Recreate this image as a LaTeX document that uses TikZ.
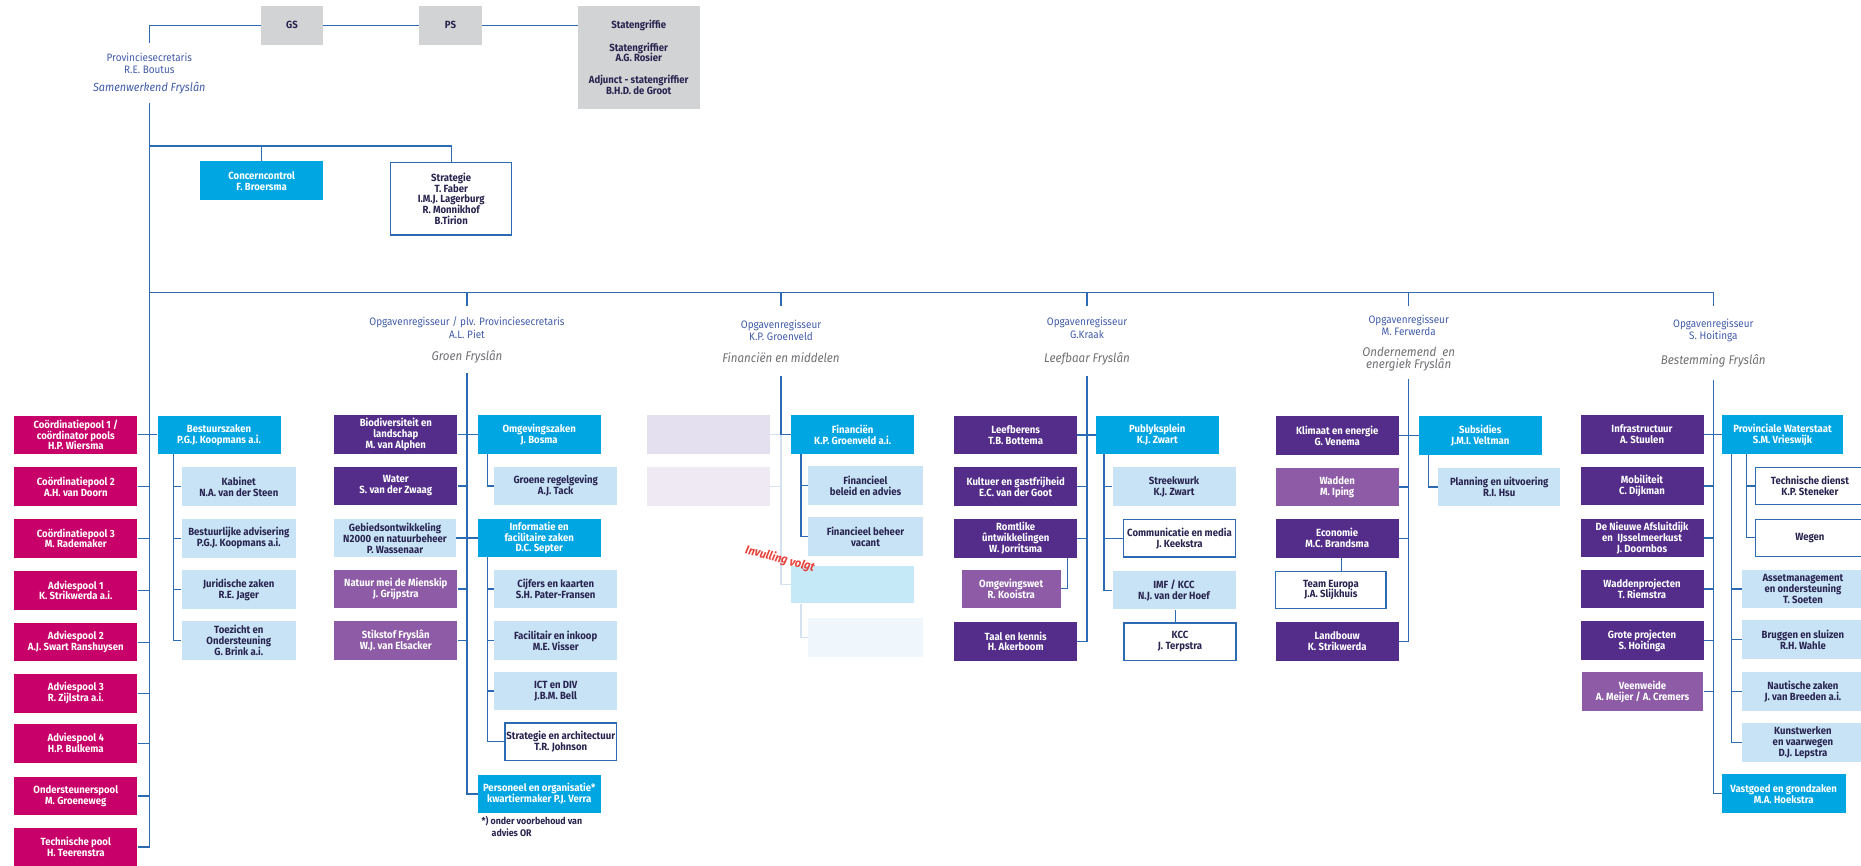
\documentclass[tikz,border=0pt]{standalone}
\usepackage{fontspec}
\setmainfont{Fira Sans}[FakeStretch=0.92]
\usepackage{tikz}

\definecolor{poolred}{RGB}{200,0,106}
\definecolor{deptpurple}{RGB}{83,45,137}
\definecolor{teampurple}{RGB}{142,92,166}
\definecolor{unitcyan}{RGB}{0,166,226}
\definecolor{sublight}{RGB}{200,227,245}
\definecolor{staffgrey}{RGB}{209,211,212}
\definecolor{linkblue}{RGB}{44,106,178}
\definecolor{headblue}{RGB}{66,92,168}
\definecolor{titlegrey}{RGB}{112,112,116}
\definecolor{navytext}{RGB}{40,36,80}
\definecolor{fadelavender}{RGB}{228,224,239}
\definecolor{fadelilac}{RGB}{239,233,244}
\definecolor{fadecyan}{RGB}{198,233,248}
\definecolor{fadepale}{RGB}{239,247,252}
\definecolor{fadeblue}{RGB}{212,226,240}
\definecolor{volgtred}{RGB}{232,66,60}

\newcommand{\orgfont}{\fontsize{10.4}{10.9}\selectfont\bfseries}
\newcommand{\opgfont}{\fontsize{10.8}{12.3}\selectfont}
\newcommand{\opgtitle}{\color{titlegrey}\itshape\fontsize{12.6}{11.6}\selectfont}

\tikzset{
    orgbox/.style={inner sep=1pt, align=center, minimum width=123pt, minimum height=38.5pt, font=\orgfont},
    pool/.style={orgbox, fill=poolred, text=white},
    dept/.style={orgbox, fill=deptpurple, text=white},
    team/.style={orgbox, fill=teampurple, text=white},
    unit/.style={orgbox, fill=unitcyan, text=white},
    sub/.style={orgbox, fill=sublight, text=navytext},
    outlined/.style={orgbox, draw=linkblue, line width=1.3pt, fill=white, text=navytext},
    staff/.style={orgbox, fill=staffgrey, text=navytext},
    faded/.style={orgbox},
    opghead/.style={inner sep=0pt, align=center, font=\opgfont, text=headblue},
    link/.style={draw=linkblue, line width=1.2pt},
    fadelink/.style={draw=fadeblue, line width=1.2pt}
}

\begin{document}
\begin{tikzpicture}[x=1pt,y=-1pt]
    \useasboundingbox (0,0) rectangle (1861,866);

    \node[opghead, minimum height=60] (provsec) at (149.3,73.3)
        {Provinciesecretaris\\R.E. Boutus\\[5pt]{\itshape\fontsize{11.8}{11.6}\selectfont Samenwerkend Fryslân}};
    \node[staff, minimum width=61.7, minimum height=39.3] (gs) at (292,25.3) {GS};
    \node[staff, minimum width=62.4, minimum height=39.3] (pstaten) at (450.5,25.3) {PS};
    \node[staff, minimum width=122, minimum height=103.3] (griffie) at (638.7,57.3)
        {Statengriffie\\[12pt]Statengriffier\\A.G. Rosier\\[11pt]Adjunct - statengriffier\\B.H.D. de Groot};
    \node[unit, minimum height=39.3] (cc) at (261.7,180.7) {Concerncontrol\\F. Broersma};
    \node[outlined, minimum width=121, minimum height=72.3] (strat) at (451.2,198.8)
        {Strategie\\T. Faber\\I.M.J. Lagerburg\\R. Monnikhof\\B.Tirion};

    \coordinate (stafjoin) at (149.3,146);
    \coordinate (opgjoin) at (149.3,292.7);

    \node[opghead, minimum height=66.6] (groenhead) at (467,340)
        {Opgavenregisseur / plv. Provinciesecretaris\\A.L. Piet\\[10pt]{\opgtitle Groen Fryslân}};
    \node[opghead, minimum height=69.3] (finhead) at (781,341.3)
        {Opgavenregisseur\\K.P. Groenveld\\[10pt]{\opgtitle Financiën en middelen}};
    \node[opghead, minimum height=69.3] (leefhead) at (1087,341.3)
        {Opgavenregisseur\\G.Kraak\\[12pt]{\opgtitle Leefbaar Fryslân}};
    \node[opghead, minimum height=72.6] (ondhead) at (1408.7,343)
        {Opgavenregisseur\\M. Ferwerda\\[8pt]{\opgtitle Ondernemend\ \ en}\\{\opgtitle energiek Fryslân}};
    \node[opghead, minimum height=72.7] (besthead) at (1713.3,343)
        {Opgavenregisseur\\S. Hoitinga\\[12pt]{\opgtitle Bestemming Fryslân}};

    \node[pool] (cp1) at (75.8,434.9) {Coördinatiepool 1 /\\coördinator pools\\H.P. Wiersma};
    \node[pool] (cp2) at (75.8,486.7) {Coördinatiepool 2\\A.H. van Doorn};
    \node[pool] (cp3) at (75.8,538.4) {Coördinatiepool 3\\M. Rademaker};
    \node[pool] (ap1) at (75.8,590.4) {Adviespool 1\\K. Strikwerda a.i.};
    \node[pool] (ap2) at (75.8,642.2) {Adviespool 2\\A.J. Swart Ranshuysen};
    \node[pool] (ap3) at (75.8,693.3) {Adviespool 3\\R. Zijlstra a.i.};
    \node[pool] (ap4) at (75.8,743.3) {Adviespool 4\\H.P. Bulkema};
    \node[pool] (osp) at (75.8,795.9) {Ondersteunerspool\\M. Groeneweg};
    \node[pool] (tp) at (75.8,846.9) {Technische pool\\H. Teerenstra};

    \node[unit] (bz) at (219,434.9) {Bestuurszaken\\P.G.J. Koopmans a.i.};
    \node[sub, minimum width=114.3] (kab) at (238.8,486.7) {Kabinet\\N.A. van der Steen};
    \node[sub, minimum width=114.3] (bestadv) at (238.8,538.3) {Bestuurlijke advisering\\P.G.J. Koopmans a.i.};
    \node[sub, minimum width=114.3] (jur) at (238.8,589.5) {Juridische zaken\\R.E. Jager};
    \node[sub, minimum width=114.3] (toez) at (238.8,640.4) {Toezicht en\\Ondersteuning\\G. Brink a.i.};

    \node[dept] (bio) at (395.8,434.5) {Biodiversiteit en\\landschap\\M. van Alphen};
    \node[dept] (water) at (395.8,486) {Water\\S. van der Zwaag};
    \node[sub, minimum width=122] (gebied) at (395,538) {Gebiedsontwikkeling\\N2000 en natuurbeheer\\P. Wassenaar};
    \node[team] (natuur) at (395.8,588.9) {Natuur mei de Mienskip\\J. Grijpstra};
    \node[team] (stikstof) at (395.8,640.5) {Stikstof Fryslân\\W.J. van Elsacker};
    \node[unit] (omg) at (539.2,434.5) {Omgevingszaken\\J. Bosma};
    \node[sub] (groene) at (555.7,486) {Groene regelgeving\\A.J. Tack};
    \node[unit] (info) at (539.2,538) {Informatie en\\facilitaire zaken\\D.C. Septer};
    \node[sub] (cijfers) at (555.7,588.9) {Cijfers en kaarten\\S.H. Pater-Fransen};
    \node[sub] (facil) at (555.7,640.5) {Facilitair en inkoop\\M.E. Visser};
    \node[sub] (ict) at (555.7,691) {ICT en DIV\\J.B.M. Bell};
    \node[outlined, minimum width=111.7, minimum height=37.3] (strarch) at (560.8,741.7) {Strategie en architectuur\\T.R. Johnson};
    \node[unit] (pers) at (539.2,794) {Personeel en organisatie*\\kwartiermaker P.J. Verra};
    \node[anchor=north west, inner sep=0pt, align=left, font=\fontsize{9.6}{11.5}\selectfont\bfseries, text=navytext] (persnote)
        at (481.5,816.5) {*) onder voorbehoud van\\\hspace{10pt}advies OR};

    \node[faded, fill=fadelavender] (fade1) at (708.7,434.7) {};
    \node[faded, fill=fadelilac] (fade2) at (708.7,486.3) {};
    \node[unit] (fin) at (852.7,434.7) {Financiën\\K.P. Groenveld a.i.};
    \node[sub, minimum width=115.6] (finbel) at (865.5,485.5) {Financieel\\beleid en advies};
    \node[sub, minimum width=115.6] (finbeh) at (865.5,536.7) {Financieel beheer\\vacant};
    \node[faded, fill=fadecyan, minimum height=37.3] (fade3) at (852.7,584.7) {};
    \node[faded, fill=fadepale, minimum width=115.6] (fade4) at (865.5,637.3) {};

    \node[dept] (leefb) at (1015.7,435) {Leefberens\\T.B. Bottema};
    \node[dept] (kult) at (1015.7,486.7) {Kultuer en gastfrijheid\\E.C. van der Goot};
    \node[dept] (romt) at (1015.7,538.3) {Romtlike\\ûntwikkelingen\\W. Jorritsma};
    \node[team, minimum width=99] (omgw) at (1011.2,588.8) {Omgevingswet\\R. Kooistra};
    \node[dept] (taal) at (1015.7,641.4) {Taal en kennis\\H. Akerboom};
    \node[unit] (publ) at (1157.3,435) {Publyksplein\\K.J. Zwart};
    \node[sub] (streek) at (1174,486.7) {Streekwurk\\K.J. Zwart};
    \node[outlined, minimum width=112.4, minimum height=37.3] (comm) at (1179.5,538.3) {Communicatie en media\\J. Keekstra};
    \node[sub] (imf) at (1174,590.2) {IMF / KCC\\N.J. van der Hoef};
    \node[outlined, minimum width=112, minimum height=37.3] (kcc) at (1180,641.5) {KCC\\J. Terpstra};

    \node[dept] (klim) at (1337.2,435.5) {Klimaat en energie\\G. Venema};
    \node[team] (wadden) at (1337.2,486.9) {Wadden\\M. Iping};
    \node[dept] (econ) at (1337.2,538.3) {Economie\\M.C. Brandsma};
    \node[outlined, minimum width=110.3, minimum height=37.3] (team) at (1330.9,590) {Team Europa\\J.A. Slijkhuis};
    \node[dept] (landb) at (1337.2,641.4) {Landbouw\\K. Strikwerda};
    \node[unit] (subs) at (1480.2,435.5) {Subsidies\\J.M.I. Veltman};
    \node[sub, minimum width=121.7] (plan) at (1499.2,486.9) {Planning en uitvoering\\R.I. Hsu};

    \node[dept] (infra) at (1642,434.5) {Infrastructuur\\A. Stuulen};
    \node[dept] (mob) at (1642,486) {Mobiliteit\\C. Dijkman};
    \node[dept] (afsl) at (1642,538) {De Nieuwe Afsluitdijk\\en\ \ IJsselmeerkust\\J. Doornbos};
    \node[dept] (waddp) at (1642,589) {Waddenprojecten\\T. Riemstra};
    \node[dept] (grote) at (1642,640.5) {Grote projecten\\S. Hoitinga};
    \node[team, minimum width=121.6] (veen) at (1642.5,691.7) {Veenweide\\A. Meijer / A. Cremers};
    \node[unit, minimum width=121.6] (pw) at (1782.5,434.5) {Provinciale Waterstaat\\S.M. Vrieswijk};
    \node[outlined, minimum width=108.3, minimum height=37] (techd) at (1809.9,486) {Technische dienst\\K.P. Steneker};
    \node[outlined, minimum width=108.3, minimum height=37] (wegen) at (1809.9,537.7) {Wegen};
    \node[sub, minimum width=122.3] (asset) at (1802.9,588.9) {Assetmanagement\\en ondersteuning\\T. Soeten};
    \node[sub, minimum width=122.3] (brug) at (1802.9,639.6) {Bruggen en sluizen\\R.H. Wahle};
    \node[sub, minimum width=122.3] (naut) at (1802.9,691.6) {Nautische zaken\\J. van Breeden a.i.};
    \node[sub, minimum width=122.3] (kunst) at (1802.9,742.5) {Kunstwerken\\en vaarwegen\\D.J. Lepstra};
    \node[unit, minimum width=124] (vast) at (1783.7,793.7) {Vastgoed en grondzaken\\M.A. Hoekstra};

    \draw[link] (provsec.north) |- (gs.west);
    \draw[link] (gs.east) -- (pstaten.west);
    \draw[link] (pstaten.east) -- (pstaten.east -| griffie.west);
    \draw[link] (provsec.south) |- (tp.east);
    \draw[link] (stafjoin) -| (cc.north);
    \draw[link] (stafjoin) -| (strat.north);
    \foreach \h in {groenhead,finhead,leefhead,ondhead,besthead}
        \draw[link] (opgjoin) -| (\h.north);

    \draw[link] (cp1.east) -- (bz.west);
    \foreach \n in {cp2,cp3,ap1,ap2,ap3,ap4,osp}
        \draw[link] (\n.east) -- (\n.east -| provsec.south);
    \coordinate (bzleg) at ([xshift=16pt]bz.south west);
    \draw[link] (bzleg) |- (toez.west);
    \foreach \n in {kab,bestadv,jur}
        \draw[link] (\n.west) -- (\n.west -| bzleg);

    \draw[link] (groenhead.south) |- (pers.west);
    \draw[link] (bio.east) -- (omg.west);
    \draw[link] (gebied.east) -- (info.west);
    \foreach \n in {water,natuur,stikstof}
        \draw[link] (\n.east) -- (\n.east -| groenhead.south);
    \coordinate (omgleg) at ([xshift=9.6pt]omg.south west);
    \draw[link] (omgleg) |- (groene.west);
    \coordinate (infoleg) at ([xshift=9.6pt]info.south west);
    \draw[link] (infoleg) |- (strarch.west);
    \foreach \n in {cijfers,facil,ict}
        \draw[link] (\n.west) -- (\n.west -| infoleg);

    \draw[fadelink] (fin.west -| finhead.south) |- (fade3.west);
    \draw[fadelink] (fade1.east) -- (fade1.east -| finhead.south);
    \draw[fadelink] (fade2.east) -- (fade2.east -| finhead.south);
    \coordinate (fadeleg) at ([xshift=10pt]fade3.south west);
    \draw[fadelink] (fadeleg) |- (fade4.west);
    \draw[link] (finhead.south) |- (fin.west);
    \coordinate (finleg) at ([xshift=10pt]fin.south west);
    \draw[link] (finleg) |- (finbeh.west);
    \draw[link] (finbel.west) -- (finbel.west -| finleg);

    \draw[link] (leefhead.south) |- (taal.east);
    \draw[link] (leefb.east) -- (publ.west);
    \foreach \n in {kult,romt}
        \draw[link] (\n.east) -- (\n.east -| leefhead.south);
    \draw[link] ([xshift=-9.6pt]romt.south east) |- (omgw.east);
    \coordinate (publleg) at ([xshift=8.3pt]publ.south west);
    \draw[link] (publleg) |- (imf.west);
    \foreach \n in {streek,comm}
        \draw[link] (\n.west) -- (\n.west -| publleg);
    \draw[link] ([xshift=1.7pt]imf.south) -- ([xshift=1.7pt]imf.south |- kcc.north);

    \draw[link] (ondhead.south) |- (landb.east);
    \draw[link] (klim.east) -- (subs.west);
    \foreach \n in {wadden,econ}
        \draw[link] (\n.east) -- (\n.east -| ondhead.south);
    \draw[link] ([xshift=10.3pt]subs.south west) |- (plan.west);
    \draw[link] ([xshift=4.5pt]econ.south) -- ([xshift=4.5pt]econ.south |- team.north);

    \draw[link] (besthead.south) |- (vast.west);
    \draw[link] (infra.east) -- (pw.west);
    \foreach \n in {mob,afsl,waddp,grote,veen}
        \draw[link] (\n.east) -- (\n.east -| besthead.south);
    \coordinate (pwleg) at ([xshift=10pt]pw.south west);
    \draw[link] (pwleg) |- (kunst.west);
    \foreach \n in {asset,brug,naut}
        \draw[link] (\n.west) -- (\n.west -| pwleg);
    \coordinate (pwinner) at ([xshift=25pt]pw.south west);
    \draw[link] (pwinner) |- (wegen.west);
    \draw[link] (techd.west) -- (techd.west -| pwinner);

    \node[rotate=-15, inner sep=0pt, text=volgtred, font=\fontsize{12}{12}\selectfont\bfseries\itshape] (volgt)
        at (780,559) {Invulling volgt};
\end{tikzpicture}
\end{document}
